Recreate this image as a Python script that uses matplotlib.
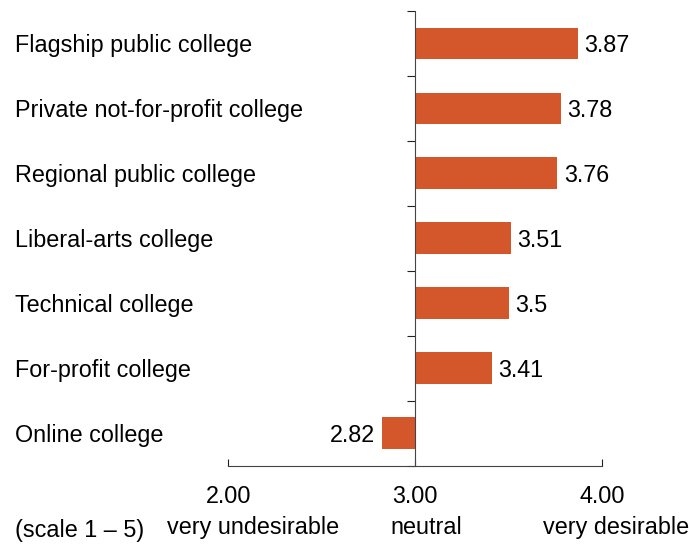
import matplotlib.pyplot as plt
import numpy as np

plt.rcParams['font.family'] = ['Liberation Sans', 'DejaVu Sans']

categories = ['Flagship public college', 'Private not-for-profit college',
              'Regional public college', 'Liberal-arts college',
              'Technical college', 'For-profit college', 'Online college']
scores = [3.87, 3.78, 3.76, 3.51, 3.5, 3.41, 2.82]
score_labels = ['3.87', '3.78', '3.76', '3.51', '3.5', '3.41', '2.82']
tick_values = [2.0, 3.0, 4.0]
tick_names = ['very undesirable', 'neutral', 'very desirable']

neutral = 3.0
bar_color = '#D4572C'
fs = 16.8
dy = -1.8  # nudge text down so caps sit centred on the bars

fig = plt.figure(figsize=(6.89, 5.45), dpi=100)
ax = fig.add_axes([0.3314, 0.1455, 0.5428, 0.8343])

y = np.arange(len(categories))
widths = [s - neutral for s in scores]
ax.barh(y, widths, left=neutral, height=0.49, color=bar_color, zorder=2)

ax.set_xlim(2, 4)
ax.set_ylim(len(categories) - 0.5, -0.5)

# value labels beside each bar end
for yi, s, lab in zip(y, scores, score_labels):
    if s >= neutral:
        ax.annotate(lab, (s, yi), xytext=(4.5, dy), textcoords='offset points',
                    ha='left', va='center', fontsize=fs)
    else:
        ax.annotate(lab, (s, yi), xytext=(-5, dy), textcoords='offset points',
                    ha='right', va='center', fontsize=fs)

# category names aligned to the left edge of the figure
for yi, name in zip(y, categories):
    ax.annotate(name, (0.022, yi), xycoords=('figure fraction', 'data'),
                xytext=(0, dy), textcoords='offset points',
                ha='left', va='center', fontsize=fs)

# vertical axis at the neutral point
for side in ['top', 'right']:
    ax.spines[side].set_visible(False)
ax.spines['left'].set_position(('data', neutral))
ax.spines['left'].set_color('#444444')
ax.spines['bottom'].set_color('#444444')
ax.set_yticks(np.arange(-0.5, len(categories) + 0.5, 1.0))
ax.set_yticklabels([])
ax.tick_params(axis='y', direction='out', length=6, color='#222222')

ax.set_xticks(tick_values)
ax.set_xticklabels(['%.2f' % v for v in tick_values], fontsize=fs)
ax.tick_params(axis='x', direction='in', length=5, pad=14, color='#222222')

name_offsets = [0.132, 0.057, 0.074]
for v, name, off in zip(tick_values, tick_names, name_offsets):
    ax.annotate(name, (v + off, 0), xycoords=('data', 'axes fraction'),
                xytext=(0, -49.5), textcoords='offset points',
                ha='center', va='baseline', fontsize=fs)

fig.text(0.022, 0.0147, '(scale 1 \u2013 5)', ha='left', va='baseline', fontsize=fs)

fig.savefig('out.png', dpi=100)
